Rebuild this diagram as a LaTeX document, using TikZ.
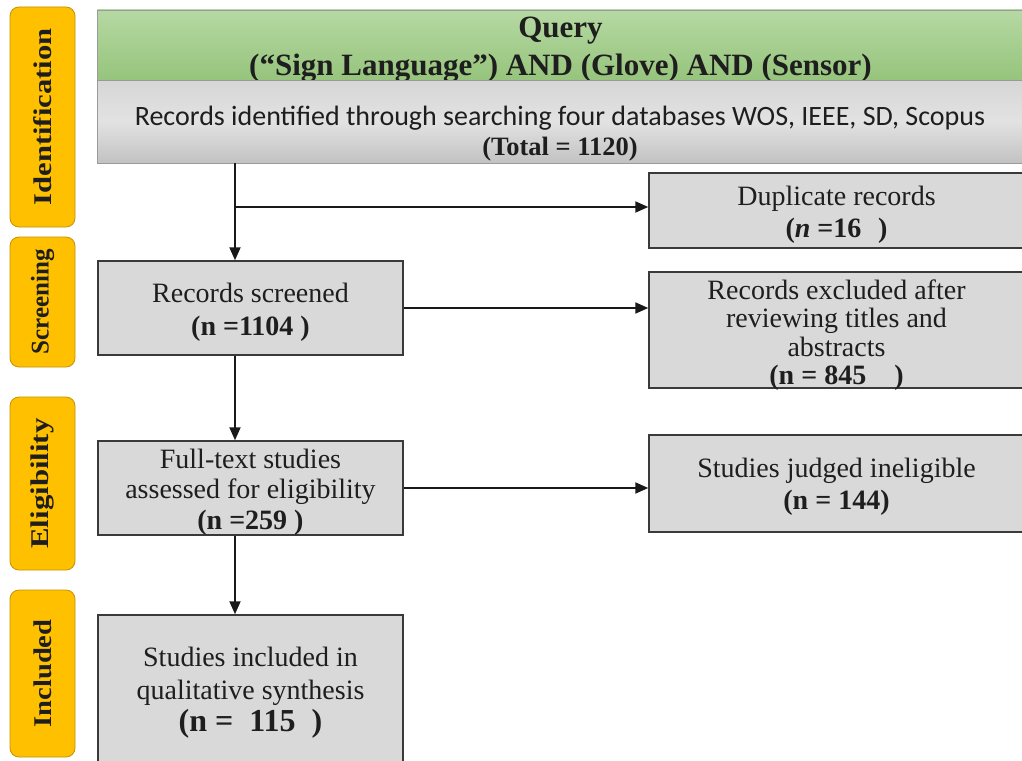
\documentclass[tikz,border=0pt]{standalone}
\usepackage{graphicx}
\usepackage{fontspec}
\setmainfont{Liberation Serif}
\newfontfamily\calibrifont{Carlito}
\usetikzlibrary{arrows.meta}
\definecolor{phaseorange}{HTML}{FFC000}
\definecolor{phaseborder}{HTML}{C49300}
\definecolor{boxgray}{HTML}{D9D9D9}
\definecolor{boxborder}{HTML}{3A3A3A}
\definecolor{textcol}{HTML}{1E1E1E}
\definecolor{gtop}{HTML}{B6D9A3}
\definecolor{gbot}{HTML}{96C47C}
\definecolor{graytop}{HTML}{D6D6D6}
\definecolor{graybot}{HTML}{C2C2C2}
\definecolor{topborder}{HTML}{9A9A9A}
\begin{document}
\begin{tikzpicture}[x=1pt,y=-1pt,
  phase/.style={draw=phaseborder, fill=phaseorange, rounded corners=9pt, line width=0.8pt,
    rotate=90, minimum height=65pt, inner sep=0pt, text=textcol,
    font=\fontsize{25.5}{25.5}\selectfont\bfseries},
  box/.style={draw=boxborder, fill=boxgray, line width=1.5pt, inner sep=0pt,
    minimum width=305pt},
  rbox/.style={box, minimum width=375pt},
  boxtext/.style={align=center, inner sep=0pt, text=textcol},
  arr/.style={draw=black!90, line width=2pt, -{Triangle[length=13pt,width=11pt]}},
  topband/.style={draw=topborder, line width=0.6pt, minimum width=927pt, inner sep=0pt}
]
\clip (0,0) rectangle (1022,760);
\fill[white] (0,0) rectangle (1022,760);

% phase labels
\node[phase, minimum width=220pt] (pid) at (42.5,117) {\scalebox{1.2}[1]{Identification}};
\node[phase, minimum width=130pt] (psc) at (42.5,302) {\scalebox{0.98}[1]{Screening}};
\node[phase, minimum width=173pt] (pel) at (42.5,483.5) {\scalebox{1.21}[1]{Eligibility}};
\node[phase, minimum width=167pt] (pin) at (42.5,673.5) {\scalebox{1.12}[1]{Included}};

% top query band
\node[topband, minimum height=70pt, top color=gtop, bottom color=gbot] (query) at (560.5,45) {};
\node[boxtext, font=\fontsize{31}{38}\selectfont\bfseries] (querytext) at ([yshift=-5pt]query.center)
  {Query\\(“Sign Language”) AND (Glove) AND (Sensor)};
\node[topband, minimum height=83pt, top color=graytop, bottom color=graybot,
  middle color=graytop!70!white] (idbox) at (560.5,121.5) {};
\node[boxtext, font=\fontsize{28}{30}\selectfont] (idtext) at (560,134)
  {{\calibrifont Records identified through searching four databases WOS, IEEE, SD, Scopus}\\
   {\fontsize{26.5}{30}\selectfont\bfseries (Total = 1120)}};

% right boxes
\node[rbox, minimum height=75pt] (dup) at (836.5,210.5) {};
\node[boxtext, font=\fontsize{28}{32}\selectfont] (duptext) at ([yshift=-4pt]dup.center)
  {Duplicate records\\ \textbf{(\textit{n} =16\hspace{0.6em})}};
\node[rbox, minimum height=116pt] (excl) at (836.5,330) {};
\node[boxtext, font=\fontsize{28}{28.5}\selectfont] (excltext) at ([yshift=-5pt]excl.center)
  {Records excluded after\\reviewing titles and\\abstracts\\ \textbf{(n = 845\hspace{1em})}};
\node[rbox, minimum height=97pt] (inelig) at (836.5,483.5) {};
\node[boxtext, font=\fontsize{28}{32}\selectfont] (ineligtext) at ([yshift=-3pt]inelig.center)
  {Studies judged ineligible\\ \textbf{(n = 144)}};

% left boxes
\node[box, minimum height=94pt] (screened) at (250.5,308) {};
\node[boxtext, font=\fontsize{28}{33}\selectfont] (screenedtext) at ([yshift=-4pt]screened.center)
  {Records screened\\ \textbf{(n =1104 )}};
\node[box, minimum height=94pt] (fulltext) at (250.5,488) {};
\node[boxtext, font=\fontsize{28}{30.5}\selectfont] (fulltexttext) at ([yshift=-4pt]fulltext.center)
  {Full-text studies\\assessed for eligibility\\ \textbf{(n =259 )}};
\node[box, minimum height=150pt] (included) at (250.5,690) {};
\node[boxtext, font=\fontsize{28}{32.5}\selectfont] (includedtext) at ([yshift=-3pt]included.center)
  {Studies included in\\qualitative synthesis\\ {\fontsize{32}{33}\selectfont\bfseries (n =\hspace{0.5em}115\hspace{0.5em})}};

% connectors
\coordinate (col) at (235,0);
\coordinate (br) at (235,207);
\draw[arr] (idbox.south -| col) -- (screened.north -| col);
\draw[arr] (br) -- (br -| dup.west);
\draw[arr] (screened.east) -- (screened.east -| excl.west);
\draw[arr] (screened.south -| col) -- (fulltext.north -| col);
\draw[arr] (fulltext.east) -- (fulltext.east -| inelig.west);
\draw[arr] (fulltext.south -| col) -- (included.north -| col);
\end{tikzpicture}
\end{document}
